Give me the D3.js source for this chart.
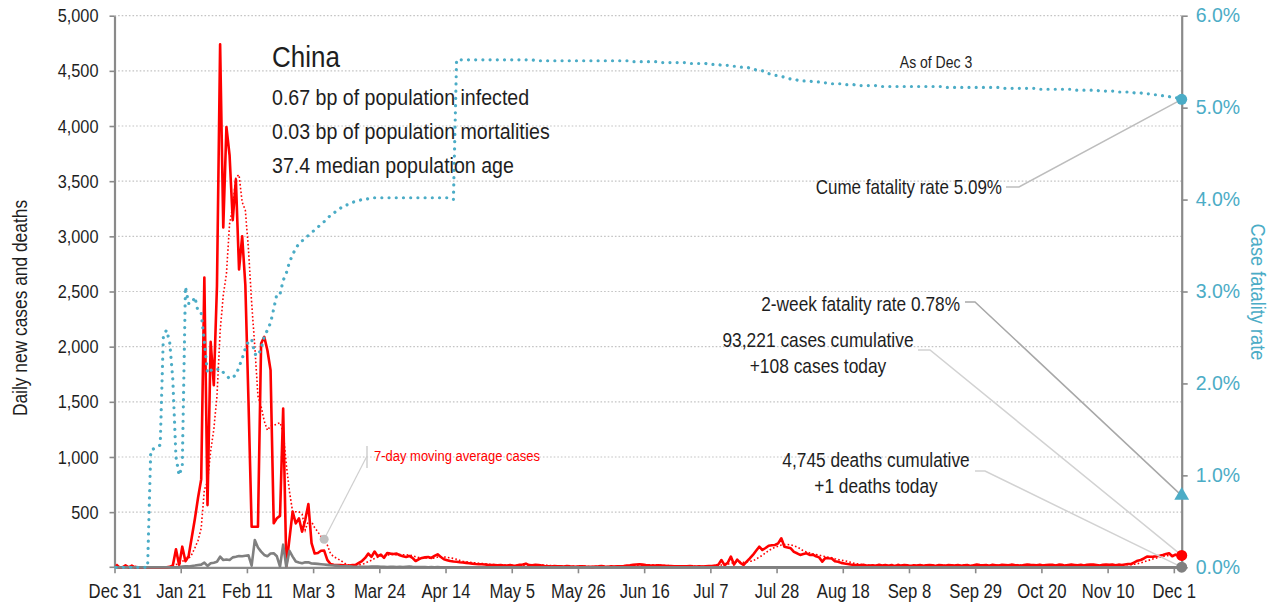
<!DOCTYPE html>
<html>
<head>
<meta charset="utf-8">
<script src="https://cdn.jsdelivr.net/npm/d3@7"></script>
<style>
  body { margin: 0; background: #fff; }
  svg { font-family: "Liberation Sans", Arial, sans-serif; }
</style>
</head>
<body>
<svg id="paper" width="1276" height="610"></svg>
<script>
// ---- data ----
const startDate = new Date(2019, 11, 31);
const tickLabels = ["Dec 31", "Jan 21", "Feb 11", "Mar 3", "Mar 24", "Apr 14", "May 5", "May 26", "Jun 16",
  "Jul 7", "Jul 28", "Aug 18", "Sep 8", "Sep 29", "Oct 20", "Nov 10", "Dec 1"];
const caseTicks = [500, 1000, 1500, 2000, 2500, 3000, 3500, 4000, 4500, 5000];
const rateTicks = [0, 1, 2, 3, 4, 5, 6];

// daily new cases, Dec 31 .. Dec 3
const newCases = [
  27, 0, 0, 17, 0, 15, 0, 0, 0, 0,
  0, 0, 0, 0, 0, 0, 0, 4, 17, 163,
  20, 187, 55, 100, 270, 440, 630, 797, 2626, 564,
  2043, 1651, 2550, 4740, 3080, 3991, 3735, 3146, 3514, 2699,
  3001, 2560, 1500, 368, 368, 368, 2029, 2089, 1968, 1787,
  400, 444, 466, 1440, 10, 260, 504, 398, 444, 322,
  430, 573, 220, 125, 130, 150, 151, 67, 30, 22,
  20, 20, 18, 15, 15, 20, 22, 40, 57, 85,
  124, 94, 143, 100, 115, 85, 130, 124, 120, 124,
  109, 100, 94, 103, 85, 57, 73, 85, 90, 94,
  85, 103, 118, 94, 73, 65, 57, 52, 50, 46,
  43, 40, 37, 33, 30, 28, 27, 25, 22, 21,
  20, 18, 20, 15, 17, 20, 14, 16, 22, 25,
  33, 20, 18, 22, 21, 15, 12, 10, 8, 12,
  10, 8, 6, 12, 9, 7, 5, 8, 10, 6,
  5, 4, 6, 8, 11, 7, 5, 8, 6, 9,
  10, 12, 15, 18, 22, 25, 28, 24, 20, 18,
  17, 15, 18, 16, 14, 12, 11, 10, 9, 8,
  8, 10, 12, 9, 7, 8, 6, 10, 12, 11,
  15, 22, 66, 20, 40, 97, 25, 70, 40, 21,
  51, 80, 112, 150, 187, 157, 175, 196, 200, 202,
  217, 263, 187, 180, 172, 140, 127, 112, 120, 127,
  112, 115, 100, 90, 51, 85, 82, 80, 55, 51,
  40, 35, 30, 25, 22, 20, 18, 22, 16, 15,
  19, 14, 22, 16, 20, 13, 21, 9, 22, 15,
  20, 18, 12, 19, 17, 21, 14, 18, 20, 19,
  12, 20, 18, 14, 21, 19, 17, 20, 13, 18,
  20, 12, 19, 25, 21, 18, 20, 14, 22, 19,
  16, 22, 20, 18, 24, 21, 19, 13, 20, 25,
  22, 20, 18, 24, 16, 21, 23, 22, 17, 24,
  22, 15, 20, 24, 21, 18, 23, 16, 22, 25,
  24, 21, 17, 23, 26, 22, 25, 18, 24, 20,
  25, 30, 30, 45, 60, 66, 80, 97, 95, 97,
  100, 105, 112, 120, 127, 100, 115, 103, 108
];

// daily new deaths
const newDeaths = [
  0, 0, 0, 0, 0, 0, 0, 0, 0, 0,
  0, 1, 0, 0, 0, 0, 0, 1, 0, 0,
  3, 6, 8, 8, 12, 16, 21, 24, 42, 12,
  36, 42, 50, 96, 66, 70, 66, 90, 96, 103,
  100, 105, 108, 15, 247, 180, 142, 112, 100, 125,
  127, 100, 7, 205, 2, 150, 97, 52, 43, 37,
  45, 45, 35, 33, 31, 28, 25, 22, 19, 17,
  15, 12, 10, 10, 8, 6, 5, 5, 4, 4,
  5, 6, 7, 6, 5, 4, 3, 5, 4, 3,
  4, 3, 5, 6, 4, 3, 2, 3, 2, 1,
  2, 1, 2, 1, 0, 1, 0, 1, 0, 1,
  0, 0, 1, 0, 0, 0, 0, 0, 1, 0,
  0, 0, 0, 0, 0, 0, 0, 0, 0, 0,
  0, 0, 0, 0, 1, 0, 0, 0, 0, 0,
  0, 0, 0, 0, 0, 0, 0, 0, 0, 0,
  0, 0, 0, 0, 0, 0, 0, 0, 0, 0,
  0, 0, 0, 0, 0, 0, 0, 0, 0, 0,
  0, 0, 0, 0, 0, 0, 0, 0, 0, 0,
  0, 0, 0, 0, 0, 0, 0, 0, 0, 0,
  0, 0, 0, 0, 0, 0, 0, 0, 0, 0,
  0, 0, 0, 0, 0, 0, 0, 0, 0, 0,
  0, 0, 0, 0, 0, 0, 0, 0, 0, 0,
  0, 0, 0, 0, 0, 0, 0, 0, 0, 0,
  0, 0, 0, 0, 0, 0, 0, 0, 0, 0,
  0, 0, 0, 0, 0, 0, 0, 0, 0, 0,
  0, 0, 0, 0, 0, 0, 0, 0, 0, 0,
  0, 0, 0, 0, 0, 0, 0, 0, 0, 0,
  0, 0, 0, 0, 0, 0, 0, 0, 0, 0,
  0, 0, 0, 0, 0, 0, 0, 0, 0, 0,
  0, 0, 0, 0, 0, 0, 0, 0, 0, 0,
  0, 0, 0, 0, 0, 0, 0, 0, 0, 0,
  0, 0, 0, 0, 0, 0, 0, 0, 0, 0,
  0, 0, 0, 0, 0, 0, 0, 0, 0, 0,
  0, 0, 0, 0, 0, 0, 0, 0, 1
];

// cumulative case fatality rate, percent
const fatalityRate = [
  0, 0, 0, 0, 0, 0, 0, 0, 0, 0,
  0, 1.27, 1.29, 1.31, 1.33, 2.52, 2.58, 2.45, 2.04, 1.20,
  1.00, 1.10, 3.05, 2.87, 2.87, 2.94, 2.78, 2.76, 2.45, 2.11,
  2.14, 2.16, 2.15, 2.16, 2.12, 2.09, 2.05, 2.07, 2.09, 2.18,
  2.27, 2.38, 2.46, 2.48, 2.32, 2.30, 2.38, 2.51, 2.58, 2.66,
  2.81, 2.97, 2.97, 3.12, 3.20, 3.32, 3.40, 3.47, 3.52, 3.55,
  3.58, 3.61, 3.64, 3.67, 3.70, 3.73, 3.76, 3.79, 3.83, 3.85,
  3.88, 3.90, 3.93, 3.94, 3.95, 3.97, 3.98, 3.99, 4.00, 4.00,
  4.01, 4.01, 4.02, 4.02, 4.02, 4.02, 4.02, 4.02, 4.02, 4.02,
  4.02, 4.02, 4.02, 4.02, 4.02, 4.02, 4.02, 4.02, 4.02, 4.02,
  4.02, 4.02, 4.02, 4.02, 4.02, 4.02, 4.01, 4.00, 5.52, 5.52,
  5.52, 5.52, 5.52, 5.52, 5.52, 5.52, 5.52, 5.52, 5.52, 5.52,
  5.52, 5.52, 5.52, 5.52, 5.52, 5.52, 5.52, 5.52, 5.52, 5.52,
  5.52, 5.52, 5.52, 5.51, 5.51, 5.51, 5.51, 5.51, 5.51, 5.51,
  5.51, 5.51, 5.51, 5.51, 5.51, 5.51, 5.51, 5.51, 5.51, 5.51,
  5.51, 5.51, 5.51, 5.51, 5.51, 5.51, 5.51, 5.51, 5.51, 5.51,
  5.51, 5.51, 5.51, 5.51, 5.50, 5.50, 5.50, 5.50, 5.50, 5.50,
  5.50, 5.50, 5.50, 5.49, 5.49, 5.49, 5.49, 5.49, 5.49, 5.49,
  5.49, 5.49, 5.48, 5.48, 5.48, 5.48, 5.48, 5.48, 5.47, 5.47,
  5.47, 5.47, 5.46, 5.46, 5.46, 5.45, 5.45, 5.45, 5.44, 5.44,
  5.44, 5.43, 5.42, 5.41, 5.40, 5.40, 5.39, 5.37, 5.36, 5.35,
  5.35, 5.34, 5.33, 5.32, 5.31, 5.31, 5.30, 5.30, 5.29, 5.29,
  5.29, 5.28, 5.28, 5.28, 5.27, 5.27, 5.27, 5.26, 5.26, 5.26,
  5.26, 5.25, 5.25, 5.25, 5.25, 5.24, 5.24, 5.24, 5.24, 5.24,
  5.24, 5.24, 5.24, 5.23, 5.23, 5.23, 5.23, 5.23, 5.23, 5.23,
  5.23, 5.23, 5.23, 5.23, 5.23, 5.23, 5.23, 5.23, 5.23, 5.23,
  5.23, 5.23, 5.23, 5.22, 5.22, 5.22, 5.22, 5.22, 5.22, 5.22,
  5.22, 5.22, 5.22, 5.22, 5.22, 5.22, 5.22, 5.22, 5.22, 5.22,
  5.22, 5.21, 5.21, 5.21, 5.21, 5.21, 5.21, 5.21, 5.21, 5.21,
  5.21, 5.21, 5.21, 5.20, 5.20, 5.20, 5.20, 5.20, 5.20, 5.20,
  5.20, 5.20, 5.20, 5.20, 5.19, 5.19, 5.19, 5.19, 5.19, 5.19,
  5.19, 5.19, 5.18, 5.18, 5.18, 5.18, 5.18, 5.18, 5.17, 5.17,
  5.17, 5.17, 5.17, 5.16, 5.16, 5.16, 5.15, 5.15, 5.15, 5.14,
  5.14, 5.13, 5.13, 5.12, 5.12, 5.11, 5.11, 5.10, 5.09
];

const twoWeekRate = 0.78;
const cumCases = 93221;
const cumDeaths = 4745;
const subtitle = ["0.67 bp of population infected", "0.03 bp of population mortalities", "37.4 median population age"];

// ---- layout ----
const box = { left: 114.5, right: 1181.7, top: 15.7, bottom: 567.3 };
const red = "#ff0000", teal = "#4bacc6", grey = "#808080", axisGrey = "#8a8a8a", ink = "#1e1e1e";
const squeeze = 0.86; // the reference uses a condensed face

const svg = d3.select("#paper");

// condensed text helper
function addText(parent, x, y, str, size, opts = {}) {
  const sx = opts.sx || squeeze;
  return parent.append("text")
    .attr("transform", `translate(${x},${y})` + (opts.rotate ? ` rotate(${opts.rotate})` : "") + ` scale(${sx},1)`)
    .attr("text-anchor", opts.anchor || "start")
    .attr("fill", opts.fill || ink)
    .style("font-size", size + "px")
    .text(str);
}

const dates = newCases.map((v, i) => d3.timeHour.offset(d3.timeDay.offset(startDate, i), 12));
const x = d3.scaleTime()
  .domain([startDate, dates[dates.length - 1]])
  .range([box.left, box.right]);
const y = d3.scaleLinear().domain([0, 5000]).range([box.bottom, box.top]);
const y2 = d3.scaleLinear().domain([0, 6]).range([box.bottom, box.top]);

// 7-day trailing average of the cases series
const movingAvg = newCases.map((v, i) => i < 6 ? null : d3.mean(newCases.slice(i - 6, i + 1)));

// gridlines
svg.append("g")
  .attr("class", "grid")
  .selectAll("line")
  .data(caseTicks)
  .enter()
  .append("line")
  .attr("x1", box.left)
  .attr("x2", box.right)
  .attr("y1", (d) => y(d))
  .attr("y2", (d) => y(d))
  .attr("stroke", "#c4c4c4")
  .attr("stroke-width", 1.2)
  .attr("stroke-dasharray", "1.6,2");

// axes
const tickDates = tickLabels.map((t, i) => d3.timeDay.offset(startDate, 21 * i));

const gx = svg.append("g")
  .attr("transform", `translate(0,${box.bottom})`)
  .call(d3.axisBottom(x).tickValues(tickDates).tickFormat((d, i) => tickLabels[i]).tickSize(6).tickSizeOuter(0).tickPadding(11));

const gy = svg.append("g")
  .attr("transform", `translate(${box.left},0)`)
  .call(d3.axisLeft(y).tickValues(caseTicks).tickFormat(d3.format(",")).tickSize(5).tickSizeOuter(0).tickPadding(11));

const gy2 = svg.append("g")
  .attr("transform", `translate(${box.right},0)`)
  .call(d3.axisRight(y2).tickValues(rateTicks).tickFormat((d) => d.toFixed(1) + "%").tickSize(6).tickSizeOuter(0).tickPadding(8));

[gx, gy, gy2].forEach((g) => {
  g.attr("font-family", null).attr("font-size", null);
  g.select(".domain").attr("stroke", axisGrey).attr("stroke-width", 2.2);
  g.selectAll(".tick line").attr("stroke", axisGrey).attr("stroke-width", 1.6);
  g.selectAll(".tick text").attr("fill", ink);
});
gy.append("line").attr("x1", -5).attr("x2", 0).attr("y1", y(0)).attr("y2", y(0)).attr("stroke", axisGrey).attr("stroke-width", 1.6);

// squeeze tick labels of the count axes
gx.selectAll(".tick text")
  .style("font-size", "19.4px")
  .attr("transform", `scale(${squeeze},1)`);
gy.selectAll(".tick text")
  .style("font-size", "19px")
  .attr("x", function () { return +d3.select(this).attr("x") / squeeze; })
  .attr("transform", `scale(${squeeze},1)`);
gy2.selectAll(".tick text").attr("fill", teal).style("font-size", "19.5px");

// axis titles
addText(svg, 27, 308, "Daily new cases and deaths", 20.2, { rotate: -90, anchor: "middle" });
addText(svg, 1251, 292, "Case fatality rate", 20.5, { rotate: 90, anchor: "middle", fill: teal, sx: 0.89 });

// series
const lineCount = d3.line()
  .x((d, i) => x(dates[i]))
  .y((d) => y(d));

svg.append("path")
  .datum(movingAvg)
  .attr("d", d3.line().x((d, i) => x(dates[i])).y((d) => y(d)).defined((d) => d !== null))
  .attr("fill", "none")
  .attr("stroke", red)
  .attr("stroke-width", 1.6)
  .attr("stroke-dasharray", "1.6,2.2");

svg.append("path")
  .datum(newCases)
  .attr("d", lineCount)
  .attr("fill", "none")
  .attr("stroke", red)
  .attr("stroke-width", 2.6)
  .attr("stroke-linejoin", "round");

svg.append("path")
  .datum(newDeaths)
  .attr("d", lineCount)
  .attr("fill", "none")
  .attr("stroke", grey)
  .attr("stroke-width", 2.6)
  .attr("stroke-linejoin", "round");

const lineRate = d3.line()
  .x((d, i) => x(dates[i]))
  .y((d) => y2(d));

svg.append("path")
  .datum(fatalityRate)
  .attr("d", lineRate)
  .attr("fill", "none")
  .attr("stroke", teal)
  .attr("stroke-width", 3.2)
  .attr("stroke-linecap", "round")
  .attr("stroke-dasharray", "0.01,7.2");

// title block
const title = svg.append("g");
addText(title, 272, 67, "China", 30.2);
subtitle.forEach((s, i) => addText(title, 272, 105 + 34 * i, s, 22.8));

// moving average label
const maIdx = 66;
const maPoint = [x(dates[maIdx]), y(movingAvg[maIdx])];
svg.append("line")
  .attr("x1", maPoint[0]).attr("y1", maPoint[1])
  .attr("x2", 367).attr("y2", 456)
  .attr("stroke", "#cfcfcf").attr("stroke-width", 1.2);
svg.append("line")
  .attr("x1", 367).attr("y1", 446).attr("x2", 367).attr("y2", 468)
  .attr("stroke", "#cfcfcf").attr("stroke-width", 1.5);
svg.append("circle")
  .attr("cx", maPoint[0]).attr("cy", maPoint[1]).attr("r", 4.5)
  .attr("fill", "#c0c0c0");
addText(svg, 374, 461, "7-day moving average cases", 15.1, { fill: red });

// end markers and callouts
const last = dates.length - 1;
const xe = x(dates[last]);
const pRate = [xe, y2(fatalityRate[last])];
const pTwoWeek = [xe, y2(twoWeekRate)];
const pCases = [xe, y(newCases[last])];
const pDeaths = [xe, y(newDeaths[last])];

const callouts = [
  { pts: [[1006, 187], [1019, 187], pRate], color: "#bdbdbd" },
  { pts: [[965, 302], [975, 302], pTwoWeek], color: "#a8a8a8" },
  { pts: [[918, 350], [930, 350], pCases], color: "#d2d2d2" },
  { pts: [[975, 471], [985, 471], pDeaths], color: "#d2d2d2" },
];
svg.append("g")
  .selectAll("polyline")
  .data(callouts)
  .enter()
  .append("polyline")
  .attr("points", (c) => c.pts.map((p) => p.join(",")).join(" "))
  .attr("fill", "none")
  .attr("stroke", (c) => c.color)
  .attr("stroke-width", 1.5);

svg.append("circle").attr("cx", pRate[0]).attr("cy", pRate[1]).attr("r", 5.5).attr("fill", teal);
svg.append("path")
  .attr("d", d3.symbol(d3.symbolTriangle, 95)())
  .attr("transform", `translate(${pTwoWeek[0]},${pTwoWeek[1]})`)
  .attr("fill", teal);
svg.append("circle").attr("cx", pCases[0]).attr("cy", pCases[1]).attr("r", 5.5).attr("fill", red);
svg.append("circle").attr("cx", pDeaths[0]).attr("cy", pDeaths[1]).attr("r", 5.5).attr("fill", grey);

const fmt = d3.format(",");
const notes = svg.append("g");
addText(notes, 936, 68, "As of Dec 3", 16.3, { anchor: "middle" });
addText(notes, 1002, 194, `Cume fatality rate ${fatalityRate[last].toFixed(2)}%`, 19.8, { anchor: "end" });
addText(notes, 960, 311, `2-week fatality rate ${twoWeekRate.toFixed(2)}%`, 20.1, { anchor: "end" });
addText(notes, 818, 347, `${fmt(cumCases)} cases cumulative`, 20.2, { anchor: "middle" });
addText(notes, 818, 373, `+${newCases[last]} cases today`, 20.2, { anchor: "middle" });
addText(notes, 876, 467, `${fmt(cumDeaths)} deaths cumulative`, 20.1, { anchor: "middle" });
addText(notes, 876, 493, `+${newDeaths[last]} deaths today`, 20.1, { anchor: "middle" });
</script>
</body>
</html>
